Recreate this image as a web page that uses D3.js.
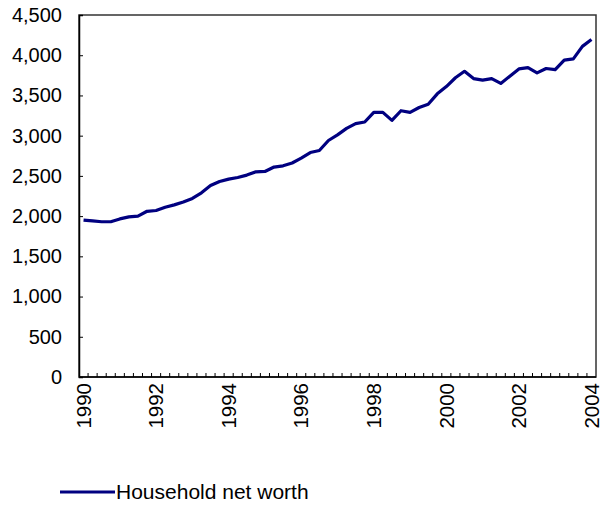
<!DOCTYPE html>
<html lang="en">
<head>
	<meta charset="utf-8" />
	<title>Household net worth</title>
	<style type="text/css">
		body { margin: 0; background: #fff; }
		text { font-family: "Liberation Sans", Arial, sans-serif; fill: #000; }
	</style>
</head>
<body>
	<div id="graph"></div>
	<script src="https://d3js.org/d3.v7.min.js"></script>
	<script type="text/javascript">
		let CHART_WIDTH = 602;
		let CHART_HEIGHT = 514;
		var margin = { top: 15, right: 6, bottom: 137, left: 79 },
			width = CHART_WIDTH - margin.left - margin.right,
			height = CHART_HEIGHT - margin.top - margin.bottom;

		// quarterly, 1990Q1 .. 2004Q1
		var quarters = [
			"1990Q1","1990Q2","1990Q3","1990Q4","1991Q1","1991Q2","1991Q3","1991Q4",
			"1992Q1","1992Q2","1992Q3","1992Q4","1993Q1","1993Q2","1993Q3","1993Q4",
			"1994Q1","1994Q2","1994Q3","1994Q4","1995Q1","1995Q2","1995Q3","1995Q4",
			"1996Q1","1996Q2","1996Q3","1996Q4","1997Q1","1997Q2","1997Q3","1997Q4",
			"1998Q1","1998Q2","1998Q3","1998Q4","1999Q1","1999Q2","1999Q3","1999Q4",
			"2000Q1","2000Q2","2000Q3","2000Q4","2001Q1","2001Q2","2001Q3","2001Q4",
			"2002Q1","2002Q2","2002Q3","2002Q4","2003Q1","2003Q2","2003Q3","2003Q4",
			"2004Q1"];

		var netWorth = [
			1950, 1940, 1930, 1930, 1965, 1990, 2000, 2060,
			2070, 2110, 2140, 2175, 2220, 2290, 2380, 2430,
			2460, 2480, 2510, 2550, 2555, 2610, 2625, 2660,
			2720, 2790, 2815, 2940, 3010, 3090, 3150, 3170,
			3290, 3290, 3190, 3310, 3290, 3350, 3390, 3520,
			3610, 3720, 3800, 3710, 3690, 3710, 3650, 3740,
			3830, 3845, 3780, 3835, 3820, 3940, 3955, 4110,
			4195];

		var xLabels = ["1990Q1","1992Q1","1994Q1","1996Q1","1998Q1","2000Q1","2002Q1","2004Q1"];
		var yTicks = [0, 500, 1000, 1500, 2000, 2500, 3000, 3500, 4000, 4500];
		var seriesName = "Household net worth";

		var svg = d3.select("#graph").append("svg")
			.attr("width", CHART_WIDTH)
			.attr("height", CHART_HEIGHT)
			.append("g")
			.attr("transform", "translate(" + margin.left + "," + margin.top + ")");

		var xScale = d3.scaleBand().domain(quarters).range([0, width]).padding(0);
		var yScale = d3.scaleLinear().domain([0, 4500]).range([height, 0]);
		var xc = d => xScale(d) + xScale.bandwidth() / 2;

		// plot frame
		svg.append("rect")
			.attr("x", 0).attr("y", 0)
			.attr("width", width).attr("height", height)
			.attr("fill", "none")
			.attr("stroke", "#333")
			.attr("stroke-width", 1.5);

		// y axis, ticks pointing in
		var yAxis = svg.append("g")
			.attr("class", "y axis")
			.call(d3.axisLeft(yScale).tickValues(yTicks).tickSize(-4).tickPadding(17)
				.tickFormat(d3.format(",")));
		yAxis.select(".domain").attr("stroke", "#000").attr("stroke-width", 1.5);
		yAxis.selectAll("line").attr("stroke", "#000");
		yAxis.selectAll("text").attr("font-size", "20px").attr("fill", "#000");

		// x axis: small inside tick between every quarter, labels every 2 years
		var xAxis = svg.append("g")
			.attr("class", "x axis")
			.attr("transform", "translate(0," + height + ")");
		xAxis.append("line")
			.attr("x1", 0).attr("x2", width)
			.attr("stroke", "#000").attr("stroke-width", 1.5);
		xAxis.selectAll(".qtick")
			.data(quarters.slice(1))
			.enter().append("line")
			.attr("class", "qtick")
			.attr("x1", d => xScale(d)).attr("x2", d => xScale(d))
			.attr("y1", 0).attr("y2", -4)
			.attr("stroke", "#000");
		xAxis.selectAll(".xlabel")
			.data(xLabels)
			.enter().append("text")
			.attr("class", "xlabel")
			.attr("transform", d => "translate(" + xc(d) + ",6) rotate(-90)")
			.attr("text-anchor", "end")
			.attr("dy", "0.35em")
			.attr("font-size", "20.5px")
			.text(d => d.slice(0, 4));

		// the series
		var line = d3.line()
			.x((d, i) => xc(quarters[i]))
			.y(d => yScale(d));
		svg.append("path")
			.datum(netWorth)
			.attr("fill", "none")
			.attr("stroke", "#000080")
			.attr("stroke-width", 3.2)
			.attr("stroke-linejoin", "round")
			.attr("d", line);

		// legend
		var legend = svg.append("g")
			.attr("transform", "translate(" + (60 - margin.left) + "," + (492 - margin.top) + ")");
		legend.append("line")
			.attr("x1", 0).attr("x2", 55)
			.attr("stroke", "#000080").attr("stroke-width", 3.2);
		legend.append("text")
			.attr("x", 56).attr("dy", "0.35em")
			.attr("font-size", "21px")
			.text(seriesName);
	</script>
</body>
</html>
